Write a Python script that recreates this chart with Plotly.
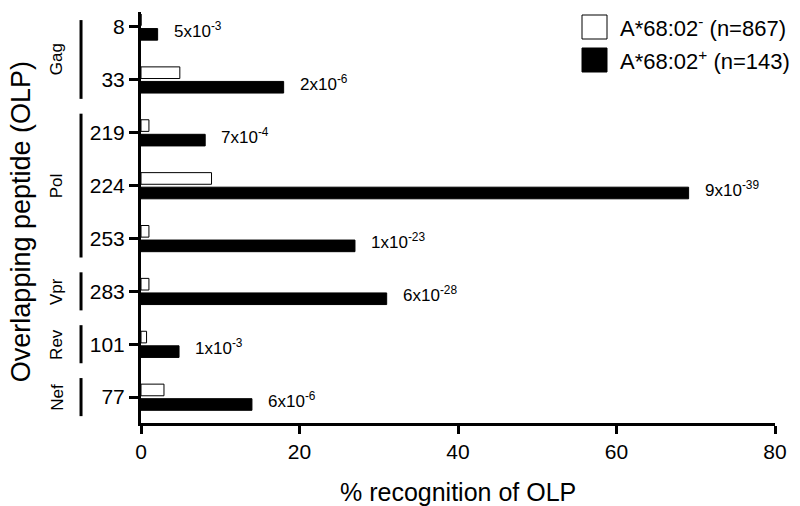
import plotly.graph_objects as go

# OLP recognition by HLA group
olp = ["8", "33", "219", "224", "253", "283", "101", "77"]
neg_pct = [0.0, 4.9, 1.0, 8.9, 1.0, 1.0, 0.7, 2.9]      # A*68:02- (n=867)
pos_pct = [2.1, 18.0, 8.1, 69.1, 27.0, 31.0, 4.8, 14.0]  # A*68:02+ (n=143)
p_values = ["5x10<sup>-3</sup>", "2x10<sup>-6</sup>", "7x10<sup>-4</sup>", "9x10<sup>-39</sup>",
            "1x10<sup>-23</sup>", "6x10<sup>-28</sup>", "1x10<sup>-3</sup>", "6x10<sup>-6</sup>"]

genes = ["Gag", "Pol", "Vpr", "Rev", "Nef"]
gene_first = [0, 2, 5, 6, 7]   # first OLP index of each gene
gene_last = [1, 4, 5, 6, 7]    # last OLP index of each gene

FONT = "Liberation Sans, Arial, sans-serif"

fig = go.Figure()

fig.add_trace(go.Bar(
    y=olp, x=neg_pct, orientation="h",
    name="A*68:02<sup>-</sup> (n=867)",
    marker=dict(color="white", line=dict(color="black", width=1)),
    width=0.22, offset=-0.245, showlegend=False,
))
fig.add_trace(go.Bar(
    y=olp, x=pos_pct, orientation="h",
    name="A*68:02<sup>+</sup> (n=143)",
    marker=dict(color="black", line=dict(color="black", width=1)),
    width=0.22, offset=0.03, showlegend=False,
))

annotations = []
shapes = []

# p-values to the right of the black bars
for i, (val, p) in enumerate(zip(pos_pct, p_values)):
    annotations.append(dict(
        x=val, y=i, xref="x", yref="y", text=p, showarrow=False,
        xanchor="left", yanchor="middle", xshift=14, yshift=-3,
        font=dict(size=17, color="black", family=FONT),
    ))

# gene brackets and labels on the left
for g, a, b in zip(genes, gene_first, gene_last):
    y0 = a - 0.13 if a == 0 else a - 0.36
    y1 = b + 0.36
    shapes.append(dict(type="line", xref="paper", yref="y",
                       x0=-0.0946, x1=-0.0946, y0=y0, y1=y1,
                       line=dict(color="black", width=3)))
    annotations.append(dict(
        x=-0.133, y=(y0 + y1) / 2, xref="paper", yref="y", text=g,
        showarrow=False, textangle=-90, xanchor="center", yanchor="middle",
        font=dict(size=17, color="black", family=FONT),
    ))

# axis titles
annotations.append(dict(
    x=-0.19, y=0.49, xref="paper", yref="paper", text="Overlapping peptide (OLP)",
    showarrow=False, textangle=-90, xanchor="center", yanchor="middle",
    font=dict(size=27, color="black", family=FONT),
))
annotations.append(dict(
    x=0.5, y=-0.168, xref="paper", yref="paper", text="% recognition of OLP",
    showarrow=False, xanchor="center", yanchor="middle",
    font=dict(size=25, color="black", family=FONT),
))

# hand-drawn legend with large boxes
leg_items = [("white", "A*68:02<sup>-</sup> (n=867)"), ("black", "A*68:02<sup>+</sup> (n=143)")]
for i, (col, txt) in enumerate(leg_items):
    top = 15 + i * 33
    y_top = (423 - top) / 411
    y_bot = (423 - top - 24) / 411
    shapes.append(dict(type="rect", xref="paper", yref="paper",
                       x0=(582 - 141) / 634, x1=(607 - 141) / 634, y0=y_bot, y1=y_top,
                       fillcolor=col, line=dict(color="black", width=1)))
    annotations.append(dict(
        x=(618 - 141) / 634, y=(y_top + y_bot) / 2, xref="paper", yref="paper",
        text=txt, showarrow=False, xanchor="left", yanchor="middle",
        font=dict(size=22, color="black", family=FONT),
    ))

fig.update_layout(
    width=800, height=506,
    plot_bgcolor="white", paper_bgcolor="white",
    barmode="overlay",
    margin=dict(l=141, r=25, t=12, b=83),
    font=dict(family=FONT, color="black"),
    xaxis=dict(range=[0, 80], tickvals=[0, 20, 40, 60, 80], showgrid=False, zeroline=False,
               showline=True, linecolor="black", linewidth=3,
               ticks="outside", ticklen=8, tickwidth=3, tickcolor="black",
               tickfont=dict(size=21, family=FONT)),
    yaxis=dict(type="category", range=[7.49, -0.283], showgrid=False, zeroline=False,
               showline=True, linecolor="black", linewidth=3,
               ticks="outside", ticklen=9, tickwidth=3, tickcolor="black",
               tickfont=dict(size=21, family=FONT)),
    shapes=shapes,
    annotations=annotations,
    showlegend=False,
)

fig.write_html("out.html", config={"displayModeBar": False},
               post_script="document.body.style.margin='0px';")
